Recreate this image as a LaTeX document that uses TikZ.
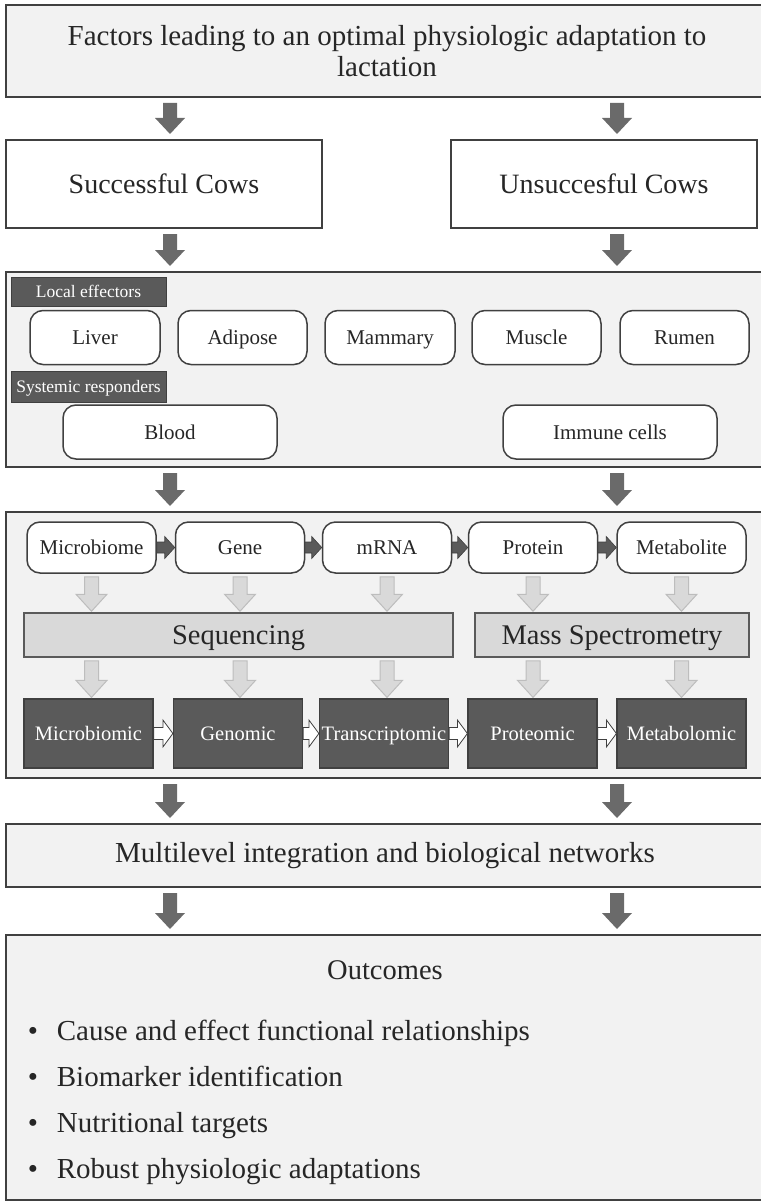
\documentclass[tikz,border=0pt]{standalone}
\usepackage{fontspec}
\setmainfont{Liberation Serif}
\usetikzlibrary{calc}

\definecolor{panelgray}{HTML}{F2F2F2}
\definecolor{linegray}{HTML}{404040}
\definecolor{arrowgray}{HTML}{6A6A6A}
\definecolor{darkbox}{HTML}{5A5A5A}
\definecolor{seqgray}{HTML}{D9D9D9}
\definecolor{seqline}{HTML}{BDBDBD}
\definecolor{txt}{HTML}{262626}

\begin{document}
\begin{tikzpicture}[x=1pt,y=-1pt,line width=1.5pt,text=txt,
  panel/.style={rectangle,draw=linegray,fill=panelgray,line width=2pt,inner sep=0pt},
  cowbox/.style={rectangle,draw=linegray,fill=white,line width=2pt,minimum width=#1,minimum height=88pt,inner sep=0pt,font=\fontsize{28}{32}\selectfont},
  tag/.style={rectangle,draw=linegray,fill=darkbox,text=white,line width=1pt,minimum width=155pt,inner sep=0pt,text height=13.6pt,text depth=2pt,font=\fontsize{17.5}{20}\selectfont},
  organ/.style={rectangle,rounded corners=13pt,draw=linegray,fill=white,line width=1.5pt,minimum height=54pt,inner sep=0pt,text height=16pt,text depth=2pt,font=\fontsize{21}{24}\selectfont},
  omic/.style={rectangle,rounded corners=13pt,draw=linegray,fill=white,line width=1.5pt,minimum width=129pt,minimum height=51pt,inner sep=0pt,text height=16pt,text depth=2pt,font=\fontsize{21}{24}\selectfont},
  method/.style={rectangle,draw=darkbox,fill=seqgray,line width=1.5pt,minimum height=44pt,inner sep=0pt,text height=20.8pt,text depth=2pt,font=\fontsize{28.5}{32}\selectfont},
  omicdata/.style={rectangle,draw=linegray,fill=darkbox,text=white,line width=1.2pt,minimum width=129pt,minimum height=69pt,inner sep=0pt,text height=15.5pt,text depth=2pt,font=\fontsize{20.5}{24}\selectfont},
  bigdown/.style={fill=arrowgray,to path={let \p1=(\tikztostart),\p2=(\tikztotarget) in
    (\x1-7pt,\y1-5pt) -- (\x1+7pt,\y1-5pt) -- (\x1+7pt,\y2+21pt) -- (\x1+15pt,\y2+21pt) -- (\x1,\y2+5pt)
    -- (\x1-15pt,\y2+21pt) -- (\x1-7pt,\y2+21pt) -- cycle}},
  lightdown/.style={fill=seqgray,draw=seqline,line width=1pt,to path={let \p1=(\tikztostart),\p2=(\tikztotarget) in
    (\x1-7pt,\y1-3pt) -- (\x1+7pt,\y1-3pt) -- (\x1+7pt,\y2+18pt) -- (\x1+15.5pt,\y2+18pt) -- (\x1,\y2+1pt)
    -- (\x1-15.5pt,\y2+18pt) -- (\x1-7pt,\y2+18pt) -- cycle}},
  darkright/.style={fill=darkbox,draw=linegray,line width=0.6pt,to path={let \p1=(\tikztostart),\p2=(\tikztotarget) in
    (\x1,\y1-5.5pt) -- (\x2-10pt,\y1-5.5pt) -- (\x2-10pt,\y1-11pt) -- (\x2,\y1) -- (\x2-10pt,\y1+11pt)
    -- (\x2-10pt,\y1+5.5pt) -- (\x1,\y1+5.5pt) -- cycle}},
  whiteright/.style={fill=white,draw=linegray,line width=0.8pt,to path={let \p1=(\tikztostart),\p2=(\tikztotarget) in
    (\x1,\y1-6pt) -- (\x2-10pt,\y1-6pt) -- (\x2-10pt,\y1-13.5pt) -- (\x2,\y1) -- (\x2-10pt,\y1+13.5pt)
    -- (\x2-10pt,\y1+6pt) -- (\x1,\y1+6pt) -- cycle}}]
\useasboundingbox (0,0) rectangle (760,1201);

\coordinate (lcol) at (170,0);
\coordinate (rcol) at (617,0);

\node[panel, minimum width=762pt, minimum height=92pt, align=center, font=\fontsize{29}{31}\selectfont] (factors) at (387,51) {Factors leading to an optimal physiologic adaptation to\\lactation};

\node[cowbox=316pt] (succ) at (164,184) {Successful Cows};
\node[cowbox=306pt] (unsucc) at (604,184) {Unsuccesful Cows};

%tissues
\node[panel, minimum width=762pt, minimum height=195pt] (organs) at (387,369.5) {};
\node[tag, minimum height=29pt] (loctag) at (88.5,291.5) {Local effectors};
\node[organ, minimum width=130pt] (liver) at (95,337.5) {Liver};
\node[organ, minimum width=129pt] (adipose) at (242.5,337.5) {Adipose};
\node[organ, minimum width=130pt] (mammary) at (390,337.5) {Mammary};
\node[organ, minimum width=129pt] (muscle) at (536.5,337.5) {Muscle};
\node[organ, minimum width=129pt] (rumen) at (684.5,337.5) {Rumen};
\node[tag, minimum height=31pt] (systag) at (88.5,386.5) {Systemic responders};
\node[organ, minimum width=214pt] (blood) at (170,432) {Blood};
\node[organ, minimum width=214pt] (immune) at (610,432) {Immune cells};

%omics
\node[panel, minimum width=762pt, minimum height=266pt] (omics) at (387,645) {};
\node[omic] (micro) at (91.5,547.5) {Microbiome};
\node[omic] (gene) at (240,547.5) {Gene};
\node[omic] (mrna) at (387,547.5) {mRNA};
\node[omic] (protein) at (533,547.5) {Protein};
\node[omic] (metab) at (681.5,547.5) {Metabolite};
\node[method, minimum width=429pt] (seq) at (238.5,635) {Sequencing};
\node[method, minimum width=274pt] (ms) at (612,635) {Mass Spectrometry};
\node[omicdata] (microic) at (88.5,733.5) {Microbiomic};
\node[omicdata] (genomic) at (238,733.5) {Genomic};
\node[omicdata] (transc) at (384,733.5) {Transcriptomic};
\node[omicdata] (proteomic) at (532.5,733.5) {Proteomic};
\node[omicdata] (metabolomic) at (681.5,733.5) {Metabolomic};

\node[panel, minimum width=762pt, minimum height=63pt, font=\fontsize{29}{32}\selectfont] (multi) at (387,855.5) {\hspace{-4pt}Multilevel integration and biological networks};

%outcomes
\node[panel, minimum width=762pt, minimum height=265pt] (outbox) at (387,1067.5) {};
\node[font=\fontsize{28.5}{32}\selectfont] (outtitle) at (385,970) {Outcomes};
\node[anchor=west, align=left, inner sep=0pt, font=\fontsize{29}{46}\selectfont] (outlist) at (27,1102) {\textbullet\hspace{19pt}Cause and effect functional relationships\\
\textbullet\hspace{19pt}Biomarker identification\\
\textbullet\hspace{19pt}Nutritional targets\\
\textbullet\hspace{19pt}Robust physiologic adaptations};

\fill[bigdown] (factors.south -| lcol) to (succ.north -| lcol);
\fill[bigdown] (factors.south -| rcol) to (unsucc.north -| rcol);
\fill[bigdown] (succ.south -| lcol) to (organs.north -| lcol);
\fill[bigdown] (unsucc.south -| rcol) to (organs.north -| rcol);
\fill[bigdown] (organs.south -| lcol) to (omics.north -| lcol);
\fill[bigdown] (organs.south -| rcol) to (omics.north -| rcol);
\fill[bigdown] (omics.south -| lcol) to (multi.north -| lcol);
\fill[bigdown] (omics.south -| rcol) to (multi.north -| rcol);
\fill[bigdown] (multi.south -| lcol) to (outbox.north -| lcol);
\fill[bigdown] (multi.south -| rcol) to (outbox.north -| rcol);

\foreach \a/\b in {micro/gene,gene/mrna,mrna/protein,protein/metab}
  \filldraw[darkright] (\a.east) to (\b.west);
\foreach \a/\b/\c in {micro/seq/microic,gene/seq/genomic,mrna/seq/transc,protein/ms/proteomic,metab/ms/metabolomic}{
  \filldraw[lightdown] (\a.south) to (\b.north -| \a);
  \filldraw[lightdown] (\b.south -| \a) to (\c.north -| \a);
}
\foreach \a/\b in {microic/genomic,genomic/transc,transc/proteomic,proteomic/metabolomic}
  \filldraw[whiteright] (\a.east) to (\b.west);

\end{tikzpicture}
\end{document}
